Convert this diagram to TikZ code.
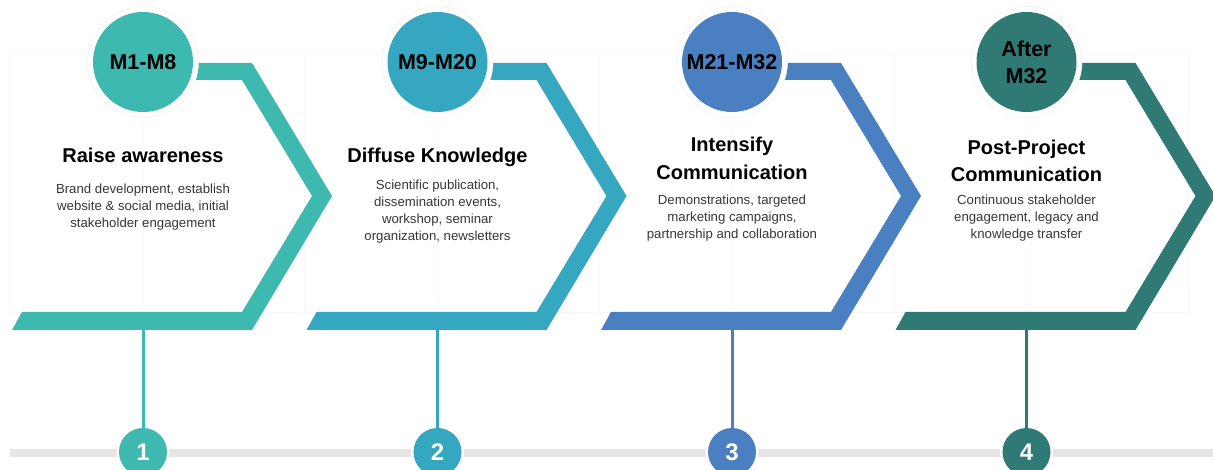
\documentclass[tikz,border=0pt]{standalone}
\usepackage{fontspec}
\setmainfont{Liberation Sans}
\definecolor{cA}{RGB}{61,185,176}
\definecolor{cB}{RGB}{53,167,192}
\definecolor{cC}{RGB}{74,127,193}
\definecolor{cD}{RGB}{47,122,116}
\definecolor{desc}{RGB}{55,55,55}
\tikzset{
  card/.style={draw=black!3, line width=0.5pt, fill=white},
  halo/.style={circle, fill=white, draw=black!5, line width=0.6pt, minimum size=111pt, inner sep=0pt},
  period/.style={circle, minimum size=100pt, inner sep=0pt, font=\bfseries\fontsize{21.5}{27}\selectfont, align=center, text=black},
  title/.style={font=\bfseries\fontsize{20}{27.5}\selectfont, align=center, text=black},
  body/.style={font=\fontsize{13.2}{17}\selectfont, align=center, text=desc},
  numhalo/.style={circle, fill=white, minimum size=53pt, inner sep=0pt},
  num/.style={circle, minimum size=48pt, inner sep=0pt, font=\bfseries\fontsize{24}{24}\selectfont, text=white},
  stem/.style={line width=3pt},
  track/.style={line width=8pt, draw=black!10}
}
\begin{document}
\begin{tikzpicture}[x=1pt,y=-1pt]
\useasboundingbox (0,0) rectangle (1213,470);
\clip (0,0) rectangle (1213,470);
\fill[white] (0,0) rectangle (1213,470);
% faint cards
\foreach \o in {0,294.5,589,883.5}{
  \draw[card] (10+\o,53) rectangle (305+\o,312);
  \draw[black!2, line width=0.5pt] (143+\o,53) -- (143+\o,312);
}
% track
\coordinate (tl) at (10,453);
\coordinate (tr) at (1213,453);
\draw[track] (tl) -- (tr);
% panels
\newcommand{\panel}[8]{%
  \begin{scope}[xshift=#1pt]
    \fill[#2] (143,63) -- (252,63) -- (332,196) -- (252,330) -- (12,330) -- (22,312)
      -- (242,312) -- (312,196) -- (242,80) -- (143,80) -- cycle;
    \coordinate (b#3) at (143,330);
    \node[halo] (h#3) at (143,62) {};
    \node[period, fill=#2] (p#3) at (143,62) {#4};
    \node[numhalo] (nh#3) at (143,452) {};
    \node[num, fill=#2] (n#3) at (143,452) {#3};
    \draw[stem, #2] (b#3) -- (n#3.north);
    \node[title] (t#3) at (143,#7) {#5};
    \node[body] (d#3) at (143,#8) {#6};
  \end{scope}}
\panel{0}{cA}{1}{M1-M8}{Raise awareness}{Brand development, establish\\website \& social media, initial\\stakeholder engagement}{155}{207.5}
\panel{294.5}{cB}{2}{M9-M20}{Diffuse Knowledge}{Scientific publication,\\dissemination events,\\workshop, seminar\\organization, newsletters}{157}{212}
\panel{589}{cC}{3}{M21-M32}{Intensify\\Communication}{Demonstrations, targeted\\marketing campaigns,\\partnership and collaboration}{158.5}{218.5}
\panel{883.5}{cD}{4}{After\\M32}{Post-Project\\Communication}{Continuous stakeholder\\engagement, legacy and\\knowledge transfer}{161}{218.5}
\end{tikzpicture}
\end{document}
